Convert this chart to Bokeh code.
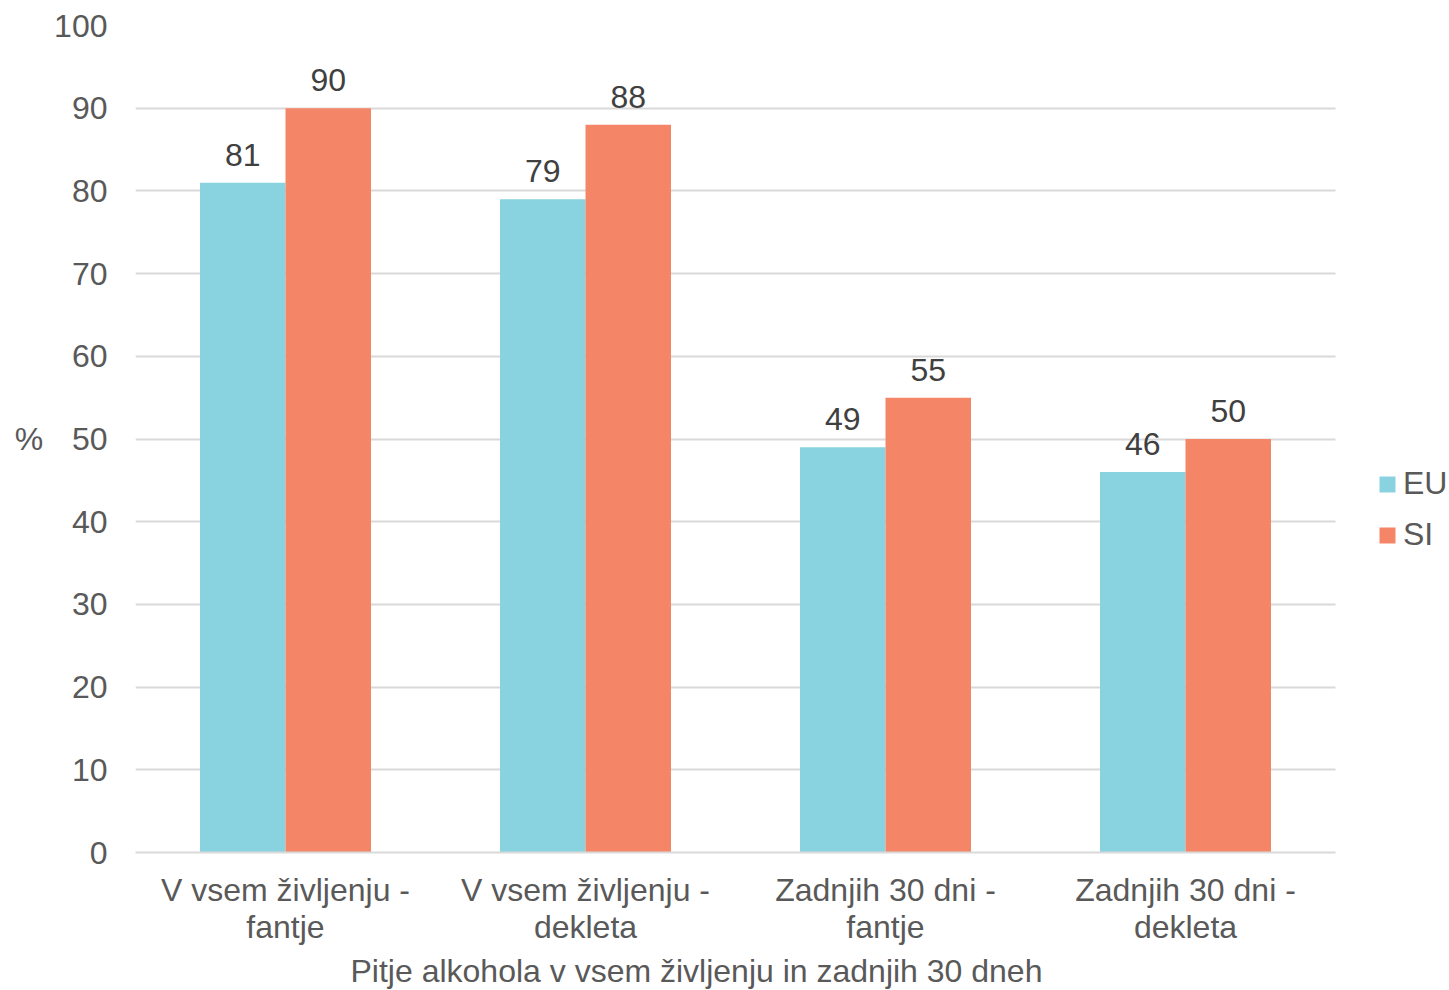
from bokeh.plotting import figure
from bokeh.models import ColumnDataSource, Legend, LegendItem, FixedTicker, Range1d, Title
from bokeh.core.properties import value
from bokeh.embed import file_html
from bokeh.resources import INLINE

categories = ["V vsem življenju -\nfantje", "V vsem življenju -\ndekleta",
              "Zadnjih 30 dni -\nfantje", "Zadnjih 30 dni -\ndekleta"]
eu_values = [81, 79, 49, 46]
si_values = [90, 88, 55, 50]
y_ticks = [0, 10, 20, 30, 40, 50, 60, 70, 80, 90, 100]
x_title = "Pitje alkohola v vsem življenju in zadnjih 30 dneh"
y_title = "%"

FONT = "Liberation Sans"
FS = "32px"
TXT = "#595959"
EU_C = "#89D3E0"
SI_C = "#F48567"

W, H = 1449, 990
FL, FR, FT, FB = 135, 1335, 25, 852          # data area in pixels
n = len(categories)
x_end = n + n * (W - FR) / (FR - FL)          # frame extends to the right edge for the legend

p = figure(width=W, height=H, output_backend="svg", toolbar_location=None,
           x_range=Range1d(0, x_end), y_range=Range1d(0, 100),
           min_border_left=FL, min_border_right=0,
           min_border_top=FT, min_border_bottom=H - FB)
p.outline_line_color = None
p.background_fill_color = "white"
p.border_fill_color = "white"

centers = [i + 0.5 for i in range(n)]
bw = 0.285
off = 0.1425
src_eu = ColumnDataSource(dict(x=[c - off for c in centers], top=eu_values,
                               lbl=[str(v) for v in eu_values]))
src_si = ColumnDataSource(dict(x=[c + off for c in centers], top=si_values,
                               lbl=[str(v) for v in si_values]))

r_eu = p.vbar(x="x", top="top", width=bw, bottom=0, source=src_eu,
              fill_color=EU_C, line_color=None)
r_si = p.vbar(x="x", top="top", width=bw, bottom=0, source=src_si,
              fill_color=SI_C, line_color=None)

for s in (src_eu, src_si):
    p.text(x="x", y="top", text="lbl", source=s, text_align="center",
           text_baseline="alphabetic", y_offset=-28,
           text_font=value(FONT), text_font_size=FS, text_color="#404040")

# grid
p.xgrid.grid_line_color = None
p.ygrid.grid_line_color = "#D9D9D9"
p.ygrid.grid_line_width = 2
p.ygrid.ticker = FixedTicker(ticks=y_ticks)
p.ygrid.cross_bounds = (0, n)

# y axis
ya = p.yaxis[0]
ya.ticker = FixedTicker(ticks=y_ticks)
ya.axis_line_color = None
ya.major_tick_line_color = None
ya.minor_tick_line_color = None
ya.major_label_text_font = FONT
ya.major_label_text_font_size = FS
ya.major_label_text_color = TXT
ya.major_label_standoff = 22
ya.axis_label = y_title
ya.axis_label_orientation = "horizontal"
ya.axis_label_text_font = FONT
ya.axis_label_text_font_size = FS
ya.axis_label_text_font_style = "normal"
ya.axis_label_text_color = TXT
ya.axis_label_standoff = 8

# x axis
xa = p.xaxis[0]
xa.ticker = FixedTicker(ticks=centers)
xa.bounds = (0, n)
xa.major_label_overrides = {c: lab for c, lab in zip(centers, categories)}
xa.axis_line_color = "#D9D9D9"
xa.axis_line_width = 2
xa.major_tick_line_color = None
xa.minor_tick_line_color = None
xa.major_label_text_font = FONT
xa.major_label_text_font_size = FS
xa.major_label_text_color = TXT
xa.major_label_text_line_height = 1.05
xa.major_label_standoff = 13

p.add_layout(Title(text=x_title, text_font=FONT, text_font_size=FS,
                   text_font_style="normal", text_color=TXT,
                   align="left", offset=350 - FL, standoff=4), "below")

legend = Legend(items=[LegendItem(label="EU", renderers=[r_eu]),
                       LegendItem(label="SI", renderers=[r_si])],
                location=(1377 - FL, 299), orientation="vertical")
legend.border_line_color = None
legend.background_fill_alpha = 0
legend.label_text_font = FONT
legend.label_text_font_size = FS
legend.label_text_color = TXT
legend.glyph_width = 20
legend.glyph_height = 20
legend.label_standoff = 6
legend.spacing = 14
legend.padding = 0
legend.margin = 0
p.add_layout(legend, "center")

open("out.html", "w").write(file_html(p, INLINE))
